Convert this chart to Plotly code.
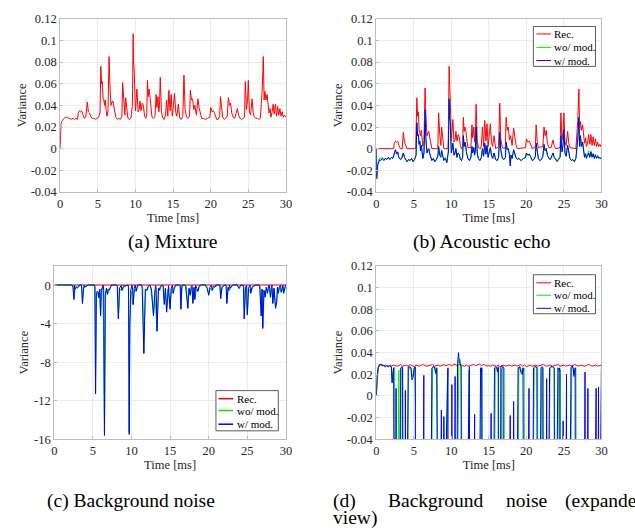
import numpy as np
import plotly.graph_objects as go

FONT = "Liberation Serif, Times New Roman, Times, serif"

TIME_TICKS = [0, 5, 10, 15, 20, 25, 30]
TIME_TICK_TEXT = ["0", "5", "10", "15", "20", "25", "30"]
VAR_TICKS = [0.12, 0.1, 0.08, 0.06, 0.04, 0.02, 0, -0.02, -0.04]
VAR_TICK_TEXT = ["0.12", "0.1", "0.08", "0.06", "0.04", "0.02", "0", "-0.02", "-0.04"]
NOISE_TICKS = [0, -4, -8, -12, -16]
NOISE_TICK_TEXT = ["0", "-4", "-8", "-12", "-16"]

SERIES_NAMES = ["Rec.", "wo/ mod.", "w/ mod."]
SERIES_COLORS = ["#ff0000", "#00ee00", "#0000ff"]
CAPTIONS = ["(a) Mixture", "(b) Acoustic echo", "(c) Background noise"]
CAPTION_D_WORDS = ["(d)", "Background", "noise", "(expanded"]
CAPTION_D_LINE2 = "view)"

# (a) Mixture: (time [ms], variance)
mixture = [(0,0.000),(0.05,0.016),(0.1,0.022),(0.2,0.025),(0.35,0.027),(0.5,0.028),(0.7,0.029),(0.9,0.029),(1.1,0.028),(1.3,0.028),(1.5,0.027),(1.7,0.028),(1.9,0.027),(2.1,0.028),(2.3,0.027),(2.4,0.033),(2.55,0.035),(2.7,0.034),(2.85,0.035),(3.0,0.031),(3.2,0.028),(3.4,0.029),(3.6,0.043),(3.75,0.034),(3.9,0.033),(4.1,0.029),(4.3,0.028),(4.5,0.028),(4.7,0.027),(4.9,0.028),(5.1,0.029),(5.3,0.033),(5.4,0.076),(5.5,0.060),(5.6,0.062),(5.7,0.046),(5.8,0.045),(5.9,0.040),(6.0,0.045),(6.1,0.036),(6.2,0.030),(6.35,0.034),(6.5,0.085),(6.6,0.060),(6.75,0.040),(6.9,0.043),(7.0,0.044),(7.1,0.040),(7.25,0.033),(7.4,0.029),(7.6,0.027),(7.8,0.028),(8.0,0.027),(8.2,0.030),(8.3,0.061),(8.45,0.042),(8.6,0.031),(8.7,0.047),(8.85,0.037),(9.0,0.028),(9.2,0.027),(9.4,0.028),(9.6,0.040),(9.7,0.106),(9.75,0.080),(9.85,0.070),(10.0,0.035),(10.1,0.045),(10.2,0.055),(10.35,0.034),(10.5,0.036),(10.6,0.044),(10.75,0.035),(10.9,0.042),(11.05,0.040),(11.2,0.031),(11.35,0.028),(11.5,0.030),(11.6,0.063),(11.7,0.048),(11.8,0.055),(11.9,0.050),(12.0,0.040),(12.2,0.029),(12.4,0.028),(12.6,0.030),(12.75,0.050),(12.85,0.038),(13.0,0.048),(13.1,0.034),(13.2,0.040),(13.3,0.066),(13.45,0.035),(13.6,0.029),(13.8,0.027),(14.0,0.031),(14.15,0.045),(14.3,0.030),(14.45,0.054),(14.6,0.035),(14.75,0.050),(14.9,0.030),(15.05,0.040),(15.2,0.051),(15.35,0.034),(15.5,0.030),(15.7,0.041),(15.9,0.028),(16.1,0.027),(16.3,0.030),(16.45,0.068),(16.6,0.036),(16.8,0.029),(17.0,0.028),(17.2,0.030),(17.3,0.054),(17.45,0.045),(17.6,0.046),(17.75,0.036),(17.9,0.040),(18.1,0.031),(18.3,0.046),(18.45,0.038),(18.6,0.032),(18.8,0.028),(19.0,0.028),(19.3,0.027),(19.6,0.028),(19.9,0.029),(20.0,0.038),(20.2,0.034),(20.4,0.035),(20.6,0.031),(20.8,0.027),(21.0,0.027),(21.2,0.030),(21.3,0.048),(21.45,0.034),(21.6,0.029),(21.8,0.027),(22.0,0.028),(22.2,0.030),(22.35,0.047),(22.5,0.040),(22.65,0.042),(22.8,0.033),(23.0,0.029),(23.2,0.028),(23.4,0.033),(23.55,0.037),(23.7,0.031),(23.9,0.028),(24.1,0.027),(24.3,0.028),(24.5,0.029),(24.6,0.062),(24.75,0.036),(24.9,0.045),(25.0,0.063),(25.15,0.034),(25.3,0.031),(25.5,0.046),(25.65,0.033),(25.8,0.029),(26.0,0.028),(26.2,0.028),(26.4,0.027),(26.6,0.028),(26.75,0.045),(26.85,0.055),(27.0,0.085),(27.1,0.045),(27.2,0.053),(27.35,0.045),(27.5,0.050),(27.6,0.040),(27.75,0.033),(27.9,0.037),(28.0,0.029),(28.15,0.033),(28.3,0.041),(28.45,0.032),(28.6,0.041),(28.75,0.030),(28.9,0.039),(29.05,0.031),(29.2,0.037),(29.35,0.030),(29.5,0.034),(29.65,0.029),(29.8,0.031),(30.0,0.029)]

# (b) Acoustic echo
echo_rec = [(0,0.0),(2.3,0.0),(2.4,0.005),(2.55,0.007),(2.7,0.006),(2.85,0.007),(3.0,0.003),(3.2,0.0),(3.45,0.0),(3.6,0.015),(3.75,0.006),(3.9,0.004),(4.1,0.0),(5.25,0.0),(5.4,0.047),(5.5,0.030),(5.6,0.034),(5.7,0.018),(5.8,0.016),(5.9,0.012),(6.0,0.017),(6.1,0.008),(6.2,0.002),(6.35,0.006),(6.5,0.056),(6.6,0.032),(6.75,0.012),(6.9,0.015),(7.0,0.016),(7.1,0.011),(7.25,0.004),(7.4,0.0),(8.2,0.0),(8.3,0.033),(8.45,0.013),(8.6,0.003),(8.7,0.020),(8.85,0.009),(9.0,0.0),(9.55,0.0),(9.6,0.012),(9.7,0.076),(9.75,0.058),(9.85,0.045),(10.0,0.007),(10.1,0.017),(10.2,0.027),(10.35,0.006),(10.5,0.008),(10.6,0.016),(10.75,0.007),(10.9,0.013),(11.05,0.011),(11.2,0.003),(11.35,0.0),(11.5,0.002),(11.6,0.029),(11.7,0.016),(11.8,0.020),(11.9,0.018),(12.0,0.010),(12.2,0.001),(12.6,0.001),(12.75,0.022),(12.85,0.010),(13.0,0.020),(13.1,0.006),(13.2,0.012),(13.3,0.041),(13.45,0.008),(13.6,0.001),(13.9,0.0),(14.0,0.003),(14.15,0.020),(14.3,0.002),(14.45,0.026),(14.6,0.007),(14.75,0.023),(14.9,0.002),(15.05,0.012),(15.2,0.023),(15.35,0.006),(15.5,0.002),(15.7,0.012),(15.9,0.0),(16.3,0.002),(16.45,0.042),(16.6,0.008),(16.8,0.001),(17.1,0.0),(17.2,0.002),(17.3,0.029),(17.45,0.017),(17.6,0.020),(17.75,0.008),(17.9,0.012),(18.1,0.003),(18.3,0.019),(18.45,0.010),(18.6,0.004),(18.8,0.0),(19.9,0.001),(20.0,0.009),(20.2,0.006),(20.4,0.007),(20.6,0.003),(20.8,0.0),(21.2,0.002),(21.3,0.022),(21.45,0.006),(21.6,0.001),(22.2,0.002),(22.35,0.020),(22.5,0.012),(22.65,0.017),(22.8,0.005),(23.0,0.001),(23.3,0.001),(23.4,0.005),(23.55,0.008),(23.7,0.003),(23.9,0.0),(24.5,0.001),(24.6,0.033),(24.75,0.008),(24.9,0.017),(25.0,0.033),(25.15,0.006),(25.3,0.003),(25.5,0.016),(25.65,0.005),(25.8,0.001),(26.6,0.0),(26.75,0.017),(26.85,0.026),(27.0,0.055),(27.1,0.017),(27.2,0.025),(27.35,0.017),(27.5,0.022),(27.6,0.012),(27.75,0.005),(27.9,0.010),(28.0,0.002),(28.15,0.005),(28.3,0.013),(28.45,0.004),(28.6,0.013),(28.75,0.003),(28.9,0.011),(29.05,0.003),(29.2,0.009),(29.35,0.002),(29.5,0.006),(29.65,0.002),(29.8,0.004),(30.0,0.001)]

echo_wo = [(0,0.0),(0.05,-0.026),(0.1,-0.020),(0.2,-0.013),(0.3,-0.010),(0.45,-0.009),(0.6,-0.009),(0.8,-0.008),(1.0,-0.010),(1.2,-0.009),(1.4,-0.010),(1.6,-0.008),(1.8,-0.010),(2.0,-0.008),(2.2,-0.009),(2.4,-0.004),(2.55,-0.001),(2.7,-0.005),(2.85,-0.003),(3.0,-0.008),(3.2,-0.010),(3.4,-0.008),(3.6,-0.004),(3.75,-0.008),(3.9,-0.010),(4.1,-0.012),(4.3,-0.010),(4.5,-0.011),(4.7,-0.009),(4.9,-0.012),(5.1,-0.010),(5.3,-0.006),(5.4,0.024),(5.5,0.012),(5.6,0.013),(5.7,0.004),(5.8,0.007),(5.9,-0.002),(6.0,0.003),(6.1,-0.006),(6.2,-0.009),(6.35,-0.004),(6.5,0.036),(6.6,0.010),(6.75,-0.004),(6.9,-0.001),(7.0,0.000),(7.1,-0.004),(7.25,-0.009),(7.4,-0.011),(7.6,-0.009),(7.8,-0.012),(8.0,-0.010),(8.2,-0.007),(8.3,0.002),(8.45,-0.005),(8.6,-0.006),(8.7,-0.001),(8.85,-0.006),(9.0,-0.010),(9.2,-0.008),(9.4,-0.012),(9.6,-0.003),(9.7,0.046),(9.75,0.030),(9.85,0.025),(10.0,-0.004),(10.1,0.000),(10.2,0.005),(10.35,-0.006),(10.5,-0.004),(10.6,0.000),(10.75,-0.008),(10.9,-0.004),(11.05,-0.005),(11.2,-0.010),(11.35,-0.011),(11.5,-0.008),(11.6,0.012),(11.7,0.002),(11.8,0.006),(11.9,0.004),(12.0,-0.003),(12.2,-0.009),(12.4,-0.011),(12.6,-0.008),(12.75,0.002),(12.85,-0.004),(13.0,0.001),(13.1,-0.006),(13.2,-0.002),(13.3,0.020),(13.45,-0.004),(13.6,-0.009),(13.8,-0.011),(14.0,-0.008),(14.15,0.000),(14.3,-0.007),(14.45,0.005),(14.6,-0.005),(14.75,0.003),(14.9,-0.008),(15.05,-0.003),(15.2,0.001),(15.35,-0.006),(15.5,-0.009),(15.7,-0.004),(15.9,-0.010),(16.1,-0.011),(16.3,-0.008),(16.45,0.015),(16.6,-0.001),(16.8,-0.008),(17.0,-0.010),(17.2,-0.008),(17.3,0.006),(17.45,-0.001),(17.6,0.000),(17.75,-0.006),(17.85,-0.015),(17.95,-0.006),(18.1,-0.009),(18.3,-0.001),(18.45,-0.005),(18.6,-0.008),(18.8,-0.010),(19.0,-0.009),(19.3,-0.011),(19.6,-0.009),(19.9,-0.008),(20.0,-0.004),(20.2,-0.006),(20.4,-0.005),(20.6,-0.008),(20.8,-0.011),(21.0,-0.010),(21.2,-0.007),(21.3,0.005),(21.45,-0.005),(21.6,-0.009),(21.8,-0.011),(22.0,-0.010),(22.2,-0.007),(22.35,0.004),(22.5,-0.002),(22.65,0.000),(22.8,-0.006),(23.0,-0.009),(23.2,-0.010),(23.4,-0.007),(23.55,-0.004),(23.7,-0.008),(23.9,-0.010),(24.1,-0.011),(24.3,-0.009),(24.5,-0.007),(24.6,0.012),(24.75,-0.002),(24.9,0.005),(25.0,0.018),(25.15,-0.004),(25.3,-0.007),(25.5,0.003),(25.65,-0.006),(25.8,-0.009),(26.0,-0.011),(26.2,-0.010),(26.4,-0.012),(26.6,-0.009),(26.75,0.002),(26.85,0.008),(27.0,0.029),(27.1,0.002),(27.2,0.012),(27.35,0.002),(27.5,0.006),(27.6,-0.002),(27.75,-0.007),(27.9,-0.004),(28.0,-0.008),(28.15,-0.006),(28.3,-0.002),(28.45,-0.007),(28.6,-0.002),(28.75,-0.007),(28.9,-0.004),(29.05,-0.008),(29.2,-0.005),(29.35,-0.008),(29.5,-0.006),(29.65,-0.009),(29.8,-0.008),(30.0,-0.010)]

echo_w = [(0,0.0),(0.05,-0.028),(0.1,-0.022),(0.2,-0.015),(0.3,-0.012),(0.45,-0.010),(0.6,-0.011),(0.8,-0.009),(1.0,-0.011),(1.2,-0.009),(1.4,-0.010),(1.6,-0.008),(1.8,-0.010),(2.0,-0.008),(2.2,-0.009),(2.4,-0.004),(2.55,-0.001),(2.7,-0.005),(2.85,-0.003),(3.0,-0.008),(3.2,-0.010),(3.4,-0.009),(3.6,-0.004),(3.75,-0.008),(3.9,-0.010),(4.1,-0.012),(4.3,-0.010),(4.5,-0.011),(4.7,-0.009),(4.9,-0.012),(5.1,-0.010),(5.3,-0.006),(5.4,0.024),(5.5,0.012),(5.6,0.013),(5.7,0.004),(5.8,0.007),(5.9,-0.002),(6.0,0.003),(6.1,-0.006),(6.2,-0.009),(6.35,-0.004),(6.5,0.036),(6.6,0.010),(6.75,-0.004),(6.9,-0.001),(7.0,0.000),(7.1,-0.004),(7.25,-0.009),(7.4,-0.011),(7.6,-0.009),(7.8,-0.012),(8.0,-0.010),(8.2,-0.007),(8.3,0.002),(8.45,-0.006),(8.6,-0.008),(8.7,-0.002),(8.85,-0.007),(9.0,-0.011),(9.2,-0.009),(9.4,-0.013),(9.6,-0.003),(9.7,0.046),(9.75,0.030),(9.85,0.025),(10.0,-0.004),(10.1,0.000),(10.2,0.005),(10.35,-0.006),(10.5,-0.004),(10.6,0.000),(10.75,-0.008),(10.9,-0.004),(11.05,-0.005),(11.2,-0.010),(11.35,-0.011),(11.5,-0.008),(11.6,0.012),(11.7,0.002),(11.8,0.006),(11.9,0.004),(12.0,-0.003),(12.2,-0.009),(12.4,-0.011),(12.6,-0.008),(12.75,0.002),(12.85,-0.004),(13.0,0.001),(13.1,-0.006),(13.2,-0.002),(13.3,0.020),(13.45,-0.004),(13.6,-0.009),(13.8,-0.011),(14.0,-0.008),(14.15,0.000),(14.3,-0.007),(14.45,0.005),(14.6,-0.005),(14.75,0.003),(14.9,-0.008),(15.05,-0.003),(15.2,0.001),(15.35,-0.006),(15.5,-0.009),(15.7,-0.004),(15.9,-0.010),(16.1,-0.011),(16.3,-0.008),(16.45,0.015),(16.6,-0.002),(16.8,-0.009),(17.0,-0.010),(17.2,-0.008),(17.3,0.006),(17.45,-0.001),(17.6,0.000),(17.75,-0.006),(17.85,-0.016),(17.95,-0.006),(18.1,-0.009),(18.3,-0.001),(18.45,-0.005),(18.6,-0.008),(18.8,-0.010),(19.0,-0.009),(19.3,-0.011),(19.6,-0.009),(19.9,-0.008),(20.0,-0.004),(20.2,-0.006),(20.4,-0.005),(20.6,-0.008),(20.8,-0.011),(21.0,-0.010),(21.2,-0.007),(21.3,0.005),(21.45,-0.005),(21.6,-0.009),(21.8,-0.011),(22.0,-0.010),(22.2,-0.007),(22.35,0.004),(22.5,-0.002),(22.65,0.000),(22.8,-0.006),(23.0,-0.009),(23.2,-0.010),(23.4,-0.007),(23.55,-0.004),(23.7,-0.008),(23.9,-0.010),(24.1,-0.012),(24.3,-0.010),(24.5,-0.008),(24.6,0.012),(24.75,-0.003),(24.9,0.004),(25.0,0.018),(25.15,-0.004),(25.3,-0.007),(25.5,0.003),(25.65,-0.006),(25.8,-0.009),(26.0,-0.011),(26.2,-0.010),(26.4,-0.012),(26.6,-0.009),(26.75,0.002),(26.85,0.008),(27.0,0.029),(27.1,0.002),(27.2,0.012),(27.35,0.002),(27.5,0.006),(27.6,-0.002),(27.75,-0.008),(27.9,-0.005),(28.0,-0.009),(28.15,-0.007),(28.3,-0.004),(28.45,-0.008),(28.6,-0.003),(28.75,-0.008),(28.9,-0.005),(29.05,-0.009),(29.2,-0.006),(29.35,-0.009),(29.5,-0.007),(29.65,-0.009),(29.8,-0.008),(30.0,-0.010)]

# (c)/(d) Background noise (same data; (d) is an expanded y view)
noise_rec_head = [(0,0.0),(0.1,0.018),(0.25,0.026)]
noise_rec_t = np.round(np.arange(0.5, 30.001, 0.25), 2)
noise_rec_v = [0.0285,0.029,0.028,0.0285,0.0275,0.028,0.0275,0.0285,0.028,0.0275,
               0.028,0.029,0.0275,0.028,0.0285,0.0275,0.029,0.028,0.027,0.0285,
               0.028,0.0275,0.0285,0.029,0.028,0.0275,0.028,0.0285,0.029,0.0275,
               0.028,0.0285,0.0275,0.028,0.029,0.028,0.0285,0.029,0.028,0.029,
               0.0295,0.028,0.029,0.0285,0.028,0.0275,0.0285,0.0275,0.028,0.0285,
               0.029,0.028,0.029,0.0295,0.028,0.029,0.0285,0.0275,0.028,0.0275,
               0.0285,0.028,0.0275,0.0285,0.027,0.028,0.0285,0.0275,0.028,0.0285,
               0.0275,0.028,0.0285,0.0275,0.028,0.029,0.0275,0.0285,0.027,0.028,
               0.0285,0.0275,0.028,0.0285,0.0275,0.028,0.0285,0.029,0.028,0.0275,
               0.028,0.0285,0.0275,0.028,0.0285,0.029,0.0275,0.028,0.0285,0.0275,
               0.028,0.0285,0.0275,0.028,0.029,0.028,0.0275,0.0285,0.028,0.0275,
               0.028,0.029,0.0285,0.0275,0.028,0.0285,0.0275,0.028,0.0285]

noise_wo = [(0,0.0),(0.1,0.017),(0.25,0.026),(0.4,0.028),(0.6,0.029),(0.8,0.028),(1.0,0.028),(1.2,0.027),(1.4,0.028),(1.6,0.027),(1.8,0.028),(2.0,0.027),(2.1,0.014),(2.2,0.020),(2.3,0.026),(2.45,0.026),(2.5,-0.2),(2.55,-1.4),(2.7,-0.5),(2.85,-0.1),(3.0,0.024),(3.05,-0.1),(3.2,-0.2),(3.3,0.026),(3.5,0.027),(3.55,-0.1),(3.65,-1.8),(3.8,-0.4),(3.95,-0.1),(4.05,-0.2),(4.3,0.024),(4.45,0.027),(4.65,0.026),(4.8,0.018),(4.95,0.020),(5.1,0.027),(5.22,-0.012),(5.3,-0.2),(5.35,-11.0),(5.45,-1.2),(5.6,-0.8),(5.75,-1.3),(5.85,-0.5),(6.0,-3.1),(6.1,-0.7),(6.3,-0.2),(6.5,-15.3),(6.65,-1.2),(6.8,-0.4),(6.9,-1.0),(7.05,-0.5),(7.2,-0.3),(7.35,-0.1),(7.5,0.025),(7.65,0.027),(7.8,0.027),(7.95,0.020),(8.1,0.025),(8.2,-0.1),(8.3,-3.4),(8.5,-0.4),(8.8,-0.6),(9.0,-0.2),(9.2,-0.1),(9.5,0.024),(9.6,-0.1),(9.7,-15.2),(9.8,-4.0),(9.95,-0.6),(10.2,-2.0),(10.4,-0.4),(10.6,-0.7),(10.8,-0.1),(10.9,0.027),(11.0,0.033),(11.15,0.034),(11.3,0.029),(11.45,-0.1),(11.6,-7.0),(11.8,-0.5),(12.0,-0.6),(12.2,-0.2),(12.35,0.024),(12.5,-0.2),(12.85,-3.1),(13.0,-0.5),(13.3,-4.7),(13.5,-0.4),(13.65,-0.6),(13.85,-0.1),(14.0,0.026),(14.1,0.024),(14.15,-0.1),(14.25,-1.9),(14.4,-0.4),(14.55,-2.7),(14.7,-0.4),(15.0,-2.4),(15.15,-0.4),(15.4,-0.9),(15.6,-0.3),(15.85,0.026),(16.0,0.027),(16.15,0.024),(16.3,0.026),(16.35,-0.1),(16.4,-2.4),(16.55,-0.3),(16.7,0.025),(16.85,0.027),(17.05,0.026),(17.1,-0.1),(17.3,-2.3),(17.45,-0.4),(17.6,-1.1),(17.8,-0.2),(17.95,-1.8),(18.1,-0.3),(18.2,-1.4),(18.45,-0.4),(18.6,-0.7),(18.8,-0.2),(19.0,0.025),(19.2,0.027),(19.4,0.022),(19.55,0.021),(19.7,0.026),(19.75,-0.1),(20.0,-1.1),(20.2,-0.3),(20.45,-0.6),(20.7,-0.2),(20.9,-0.1),(21.05,0.025),(21.2,0.027),(21.35,0.027),(21.5,0.026),(21.55,-1.3),(21.75,-0.3),(21.9,-0.1),(22.05,0.025),(22.2,0.026),(22.3,-0.1),(22.35,-1.8),(22.55,-0.3),(22.65,-0.6),(22.9,-0.2),(23.15,0.025),(23.35,0.027),(23.55,0.027),(23.75,0.025),(23.8,-0.1),(23.95,-0.4),(24.15,-0.1),(24.3,0.025),(24.45,0.022),(24.55,0.024),(24.6,-3.4),(24.75,-0.4),(25.0,-3.0),(25.2,-0.4),(25.45,-0.9),(25.65,-0.3),(25.9,-0.1),(26.05,0.025),(26.2,0.027),(26.35,0.020),(26.5,0.024),(26.6,0.026),(26.65,-0.1),(26.7,-1.5),(26.8,-3.1),(26.95,-0.5),(27.0,-4.4),(27.2,-0.6),(27.3,-1.3),(27.5,-0.3),(27.6,-0.9),(27.8,-0.2),(28.0,-1.3),(28.15,-0.3),(28.3,-1.8),(28.5,-0.4),(28.65,-2.3),(28.8,-1.7),(28.95,-0.3),(29.0,-0.9),(29.2,-0.2),(29.4,-0.8),(29.6,-0.2),(29.7,-0.9),(29.9,-0.2),(30.0,0.006)]

noise_w = [(0,0.0),(0.1,0.018),(0.25,0.026),(0.4,0.029),(0.6,0.029),(0.8,0.028),(1.0,0.028),(1.2,0.027),(1.4,0.028),(1.6,0.027),(1.8,0.028),(2.0,0.027),(2.1,0.012),(2.2,0.018),(2.3,0.026),(2.42,-0.2),(2.55,-1.5),(2.63,0.007),(2.7,-0.4),(2.85,-0.2),(3.0,-0.3),(3.15,-0.1),(3.25,0.026),(3.4,0.027),(3.5,0.026),(3.55,-0.2),(3.65,-1.9),(3.8,-0.3),(3.87,0.005),(3.95,-0.2),(4.1,-0.1),(4.25,0.027),(4.4,0.027),(4.6,0.026),(4.75,0.015),(4.9,0.017),(5.05,0.026),(5.2,0.027),(5.25,-0.1),(5.35,-11.3),(5.45,-1.0),(5.55,-0.6),(5.7,-0.7),(5.8,-1.3),(5.9,-0.4),(6.0,-3.2),(6.1,-0.5),(6.2,-0.2),(6.33,0.019),(6.4,-0.5),(6.5,-15.6),(6.6,-1.0),(6.75,-0.3),(6.9,-0.9),(7.0,-0.4),(7.15,-0.5),(7.3,-0.1),(7.4,0.026),(7.6,0.027),(7.75,0.027),(7.9,0.021),(8.05,0.026),(8.15,-0.1),(8.3,-3.5),(8.45,-0.3),(8.6,-0.1),(8.67,-0.013),(8.75,-0.5),(8.85,-0.2),(9.0,-0.019),(9.1,-0.1),(9.3,-0.05),(9.45,0.025),(9.55,0.026),(9.62,-0.2),(9.7,-15.5),(9.78,-4.2),(9.9,-0.5),(10.07,0.0105),(10.15,-0.5),(10.22,-2.0),(10.35,-0.3),(10.5,0.018),(10.6,-0.6),(10.75,-0.1),(10.82,0.028),(10.95,0.040),(11.05,0.032),(11.15,0.029),(11.3,0.027),(11.38,-0.3),(11.6,-7.1),(11.8,-0.4),(12.0,-0.5),(12.15,-0.1),(12.3,0.027),(12.4,0.027),(12.45,-0.1),(12.6,-0.5),(12.85,-3.2),(13.0,-0.4),(13.1,-0.017),(13.2,-0.3),(13.3,-4.8),(13.5,-0.3),(13.6,-0.5),(13.75,-0.1),(13.9,0.026),(14.0,0.022),(14.05,0.026),(14.1,-0.2),(14.25,-2.0),(14.4,-0.3),(14.55,-2.8),(14.7,-0.3),(14.8,-0.05),(15.0,-2.5),(15.15,-0.3),(15.3,-0.016),(15.4,-0.8),(15.55,-0.2),(15.75,0.026),(15.9,0.027),(16.05,0.026),(16.15,0.022),(16.25,0.027),(16.3,-0.1),(16.4,-2.5),(16.5,-0.2),(16.6,0.027),(16.75,0.028),(16.9,0.027),(17.0,-0.1),(17.3,-2.4),(17.45,-0.3),(17.6,-1.0),(17.75,-0.1),(17.85,-0.018),(17.95,-1.9),(18.1,-0.2),(18.2,-1.5),(18.3,-0.005),(18.45,-0.3),(18.6,-0.6),(18.75,-0.1),(18.9,0.026),(19.1,0.027),(19.3,0.021),(19.45,0.020),(19.55,0.026),(19.62,-0.1),(19.8,-0.3),(20.0,-1.0),(20.15,-0.2),(20.35,0.007),(20.45,-0.5),(20.6,-0.1),(20.8,-0.2),(20.95,0.026),(21.1,0.027),(21.25,0.027),(21.4,0.026),(21.45,-0.1),(21.55,-1.4),(21.7,-0.2),(21.85,-0.1),(21.95,0.026),(22.1,0.027),(22.2,0.026),(22.25,-0.1),(22.35,-1.9),(22.5,-0.2),(22.6,-0.5),(22.7,0.016),(22.8,-0.3),(22.95,-0.1),(23.1,0.026),(23.3,0.027),(23.5,0.027),(23.7,0.026),(23.75,-0.1),(23.9,-0.3),(24.05,-0.1),(24.2,0.026),(24.35,0.024),(24.45,0.026),(24.5,-0.2),(24.6,-3.5),(24.75,-0.3),(24.9,-0.023),(25.0,-3.1),(25.15,-0.3),(25.35,0.020),(25.45,-0.8),(25.6,-0.2),(25.8,-0.1),(25.95,0.026),(26.1,0.028),(26.25,0.025),(26.35,0.018),(26.5,0.026),(26.6,-0.1),(26.7,-1.4),(26.8,-3.2),(26.9,-0.4),(27.0,-4.5),(27.15,-0.5),(27.3,-1.2),(27.45,-0.2),(27.6,-0.8),(27.75,-0.1),(27.82,0.022),(27.9,-0.3),(28.0,-1.2),(28.1,-0.2),(28.2,0.007),(28.3,-1.9),(28.45,-0.3),(28.65,-2.4),(28.8,-1.8),(28.9,-0.2),(29.0,-0.8),(29.15,-0.1),(29.3,0.007),(29.4,-0.7),(29.55,-0.1),(29.62,0.008),(29.7,-0.8),(29.85,-0.1),(29.95,0.026),(30.0,0.027)]


def split(points):
    return [p[0] for p in points], [p[1] for p in points]


noise_rec = noise_rec_head + list(zip(noise_rec_t.tolist(), noise_rec_v))

W, H = 635, 531
BOX = "#bdbdbd"
GRID = "#ececec"
TXT = "#262626"


def px(x):
    return x / W


def py(y):
    return 1 - y / H


fig = go.Figure()


def add(points, name, color, xa, ya):
    t, v = split(points)
    fig.add_trace(go.Scatter(
        x=t, y=v, mode="lines", name=name,
        line=dict(color=color, width=1),
        xaxis=xa, yaxis=ya, showlegend=False, hoverinfo="skip",
    ))


add(mixture, "Mixture", SERIES_COLORS[0], "x", "y")
for pts, name, col in zip([echo_rec, echo_wo, echo_w], SERIES_NAMES, SERIES_COLORS):
    add(pts, name, col, "x2", "y2")
for pts, name, col in zip([noise_rec, noise_wo, noise_w], SERIES_NAMES, SERIES_COLORS):
    add(pts, name, col, "x3", "y3")
for pts, name, col in zip([noise_rec, noise_wo, noise_w], SERIES_NAMES, SERIES_COLORS):
    add(pts, name, col, "x4", "y4")


def xax(domain, anchor):
    return dict(domain=domain, anchor=anchor, range=[0, 30], tickvals=TIME_TICKS,
                ticktext=TIME_TICK_TEXT, showline=True, mirror=True, linecolor=BOX,
                linewidth=1, showgrid=True, gridcolor=GRID, zeroline=False,
                ticks="inside", ticklen=3, tickcolor=BOX,
                tickfont=dict(family=FONT, size=12.5, color=TXT),
                title=dict(text="Time [ms]", font=dict(family=FONT, size=12.5, color=TXT), standoff=1))


def yax(domain, anchor, rng, tv, tt, standoff):
    return dict(domain=domain, anchor=anchor, range=rng, tickvals=tv, ticktext=tt,
                showline=True, mirror=True, linecolor=BOX, linewidth=1,
                showgrid=True, gridcolor=GRID, zeroline=False,
                ticks="inside", ticklen=3, tickcolor=BOX,
                tickfont=dict(family=FONT, size=12.5, color=TXT),
                title=dict(text="Variance", font=dict(family=FONT, size=12.5, color=TXT), standoff=standoff))


xa_dom = [px(58), px(287)]
xb_dom = [px(378.7), px(607)]
xc_dom = [px(52), px(287)]
ytop = [py(190), py(12)]
ybot = [py(444), py(266)]

shapes = []
annotations = []


def legend_box(x0, y0, x1, y1, rows, line_x0, line_x1, text_x, lw):
    shapes.append(dict(type="rect", xref="paper", yref="paper",
                       x0=px(x0), x1=px(x1), y0=py(y1), y1=py(y0),
                       line=dict(color="#333333", width=0.8), fillcolor="white", layer="above"))
    for yc, name, col in zip(rows, SERIES_NAMES, SERIES_COLORS):
        shapes.append(dict(type="line", xref="paper", yref="paper",
                           x0=px(line_x0), x1=px(line_x1), y0=py(yc), y1=py(yc),
                           line=dict(color=col, width=lw), layer="above"))
        annotations.append(dict(text=name, x=px(text_x), y=py(yc), xref="paper", yref="paper",
                                xanchor="left", yanchor="middle", showarrow=False,
                                font=dict(family=FONT, size=11, color="#000000")))


legend_box(538, 20, 601, 61, [27.7, 41.5, 55], 541, 556, 557, 1)
legend_box(216, 394, 279.3, 435.3, [402.3, 414.5, 428.5], 218.5, 233.5, 235, 1.5)
legend_box(538, 275, 601, 315, [283.3, 296, 309.5], 541, 556, 557, 1)

cap_font = dict(family=FONT, size=19.5, color="#000000")
caps = [
    (CAPTIONS[0], 172, 241, "center"),
    (CAPTIONS[1], 486, 241, "center"),
    (CAPTIONS[2], 130, 507, "center"),
    (CAPTION_D_WORDS[0], 333, 507, "left"),
    (CAPTION_D_WORDS[1], 388, 507, "left"),
    (CAPTION_D_WORDS[2], 508, 507, "left"),
    (CAPTION_D_WORDS[3], 568, 507, "left"),
    (CAPTION_D_LINE2, 333, 524.5, "left"),
]
for text, x, y, anc in caps:
    annotations.append(dict(text=text, x=px(x), y=py(y), xref="paper", yref="paper",
                            xanchor=anc, yanchor="middle", showarrow=False, font=cap_font))

fig.update_layout(
    width=W, height=H, margin=dict(l=0, r=0, t=0, b=0),
    paper_bgcolor="white", plot_bgcolor="white",
    xaxis=xax(xa_dom, "y"), yaxis=yax(ytop, "x", [-0.04, 0.12], VAR_TICKS, VAR_TICK_TEXT, 1),
    xaxis2=xax(xb_dom, "y2"), yaxis2=yax(ytop, "x2", [-0.04, 0.12], VAR_TICKS, VAR_TICK_TEXT, 1),
    xaxis3=xax(xc_dom, "y3"), yaxis3=yax(ybot, "x3", [-16, 2], NOISE_TICKS, NOISE_TICK_TEXT, 2),
    xaxis4=xax(xb_dom, "y4"), yaxis4=yax(ybot, "x4", [-0.04, 0.12], VAR_TICKS, VAR_TICK_TEXT, 1),
    shapes=shapes,
    annotations=annotations,
    showlegend=False,
)

fig.write_html(
    "out.html",
    config={"displayModeBar": False},
    post_script="document.body.style.margin='0';document.body.style.overflow='hidden';",
)
